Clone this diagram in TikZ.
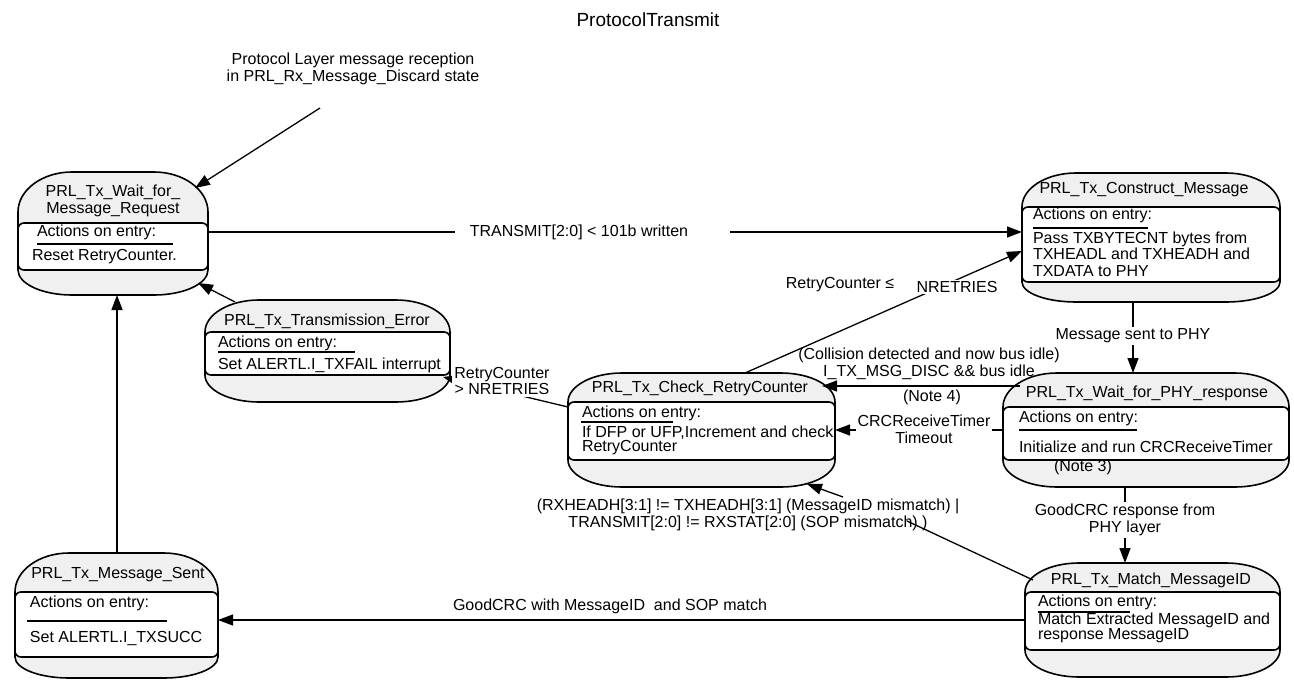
\documentclass[tikz,border=0pt]{standalone}
\usepackage{fontspec}
\setmainfont{Liberation Sans}
\usetikzlibrary{arrows.meta}
\newcommand\statebox[7]{%
 \pgfmathsetmacro\sbw{#4-#2}\pgfmathsetmacro\sbh{#5-#3}%
 \pgfmathsetmacro\sbcx{(#2+#4)/2}\pgfmathsetmacro\sbcy{(#3+#5)/2}%
 \pgfmathsetmacro\sbrx{54}%
 \pgfmathsetmacro\sbrt{min(#6-#3,40)}\pgfmathsetmacro\sbrb{min(#5-#7,40)}%
 \pgfmathsetmacro\sbax{#2+\sbrx}\pgfmathsetmacro\sbbx{#4-\sbrx}%
 \pgfmathsetmacro\sbay{#3+\sbrt}\pgfmathsetmacro\sbby{#5-\sbrb}%
 \pgfmathsetmacro\sbcxa{#2+0.448*\sbrx}\pgfmathsetmacro\sbcxb{#4-0.448*\sbrx}%
 \pgfmathsetmacro\sbcya{#3+0.448*\sbrt}\pgfmathsetmacro\sbcyb{#5-0.448*\sbrb}%
 \draw[outerst] (\sbax,#3) -- (\sbbx,#3) .. controls (\sbcxb,#3) and (#4,\sbcya) .. (#4,\sbay) -- (#4,\sbby) .. controls (#4,\sbcyb) and (\sbcxb,#5) .. (\sbbx,#5) -- (\sbax,#5) .. controls (\sbcxa,#5) and (#2,\sbcyb) .. (#2,\sbby) -- (#2,\sbay) .. controls (#2,\sbcya) and (\sbcxa,#3) .. (\sbax,#3) -- cycle;
 \draw[innerst] (#2,#6) rectangle (#4,#7);
 \node[anchorbox, minimum width=\sbw pt, minimum height=\sbh pt] (#1) at (\sbcx,\sbcy) {};
}
\begin{document}
\begin{tikzpicture}[x=1pt,y=-1pt,
  every node/.style={font=\fontsize{16pt}{16.7pt}\selectfont, inner sep=0pt, outer sep=0pt},
  outerst/.style={draw=black, fill=gray!12, line width=1.6pt},
  innerst/.style={draw=black, fill=white, line width=1.6pt, rounded corners=6pt},
  anchorbox/.style={draw=none, fill=none, rectangle},
  ttl/.style={align=center},
  txt/.style={anchor=west, align=left},
  lab/.style={align=center},
  wlab/.style={align=center, fill=white, inner sep=2pt},
  uline/.style={line width=1.3pt},
  conn/.style={line width=1.3pt},
  arr/.style={conn, -{Triangle[length=15pt,width=11pt]}},
]
\useasboundingbox (0,0) rectangle (1294,688);

\node[font=\fontsize{19pt}{22pt}\selectfont] (title) at (648,20) {ProtocolTransmit};

% states
\statebox{wait}{18}{172}{208}{295}{223}{270}
\statebox{err}{205}{300}{450}{402}{332}{375}
\statebox{chk}{568}{373}{835}{487}{402}{460}
\statebox{cons}{1022}{173}{1280}{302}{207}{282}
\statebox{phy}{1003}{373}{1289}{487}{407}{460}
\statebox{match}{1025}{563}{1280}{677}{592}{650}
\statebox{sent}{15}{553}{218}{678}{592}{657}

% texts in states
\node[ttl] (wait-t) at (113,201) {PRL\_Tx\_Wait\_for\_\\Message\_Request};
\node[txt] (wait-a) at (37,232) {Actions on entry:};
\draw[uline] (37,244) -- (173,244);
\node[txt] (wait-b) at (32,257) {Reset RetryCounter.};

\node[ttl] (err-t) at (327,321) {PRL\_Tx\_Transmission\_Error};
\node[txt] (err-a) at (218,343) {Actions on entry:};
\draw[uline] (218,352) -- (355,352);
\node[txt] (err-b) at (218,365) {Set ALERTL.I\_TXFAIL interrupt};

\node[ttl] (chk-t) at (700,388) {PRL\_Tx\_Check\_RetryCounter};
\node[txt] (chk-a) at (582,413) {Actions on entry:};
\draw[uline] (581,422) -- (673,422);
\node[txt, font=\fontsize{16pt}{14pt}\selectfont] (chk-b) at (582,440) {If DFP or UFP,Increment and check\\RetryCounter};

\node[ttl] (cons-t) at (1144,190) {PRL\_Tx\_Construct\_Message};
\node[txt] (cons-a) at (1033,215) {Actions on entry:};
\draw[uline] (1033,228) -- (1148,228);
\node[txt] (cons-b) at (1033,254) {Pass TXBYTECNT bytes from\\TXHEADL and TXHEADH and\\TXDATA to PHY};

\node[ttl] (phy-t) at (1147,393) {PRL\_Tx\_Wait\_for\_PHY\_response};
\node[txt] (phy-a) at (1019,418) {Actions on entry:};
\draw[uline] (1019,430) -- (1137,430);
\node[txt] (phy-b) at (1019,447) {Initialize and run CRCReceiveTimer};
\node (phy-n) at (1083,467) {(Note 3)};

\node[ttl] (match-t) at (1151,580) {PRL\_Tx\_Match\_MessageID};
\node[txt] (match-a) at (1038,602) {Actions on entry:};
\draw[uline] (1038,612) -- (1130,612);
\node[txt, font=\fontsize{16pt}{15pt}\selectfont] (match-b) at (1038,627.5) {Match Extracted MessageID and\\response MessageID};

\node[ttl] (sent-t) at (118,575) {PRL\_Tx\_Message\_Sent};
\node[txt] (sent-a) at (30,603) {Actions on entry:};
\draw[uline] (27,621) -- (167,621);
\node[txt] (sent-b) at (30,638) {Set ALERTL.I\_TXSUCC};

% connectors
\coordinate (init) at (320,108);
\node[lab] (initlab) at (353,69) {Protocol Layer message reception\\in PRL\_Rx\_Message\_Discard state};
\draw[arr] (init) -- ([shift={(-13,16)}]wait.north east);

\draw[arr] (wait.east |- 0,232) -- (cons.west |- 0,232);
\node[fill=white, minimum width=275pt, minimum height=8pt] (tgap) at (592,232) {};
\node (tlab) at (579,232) {TRANSMIT[2:0] < 101b written};

\draw[arr] ([shift={(30,2)}]err.north west) -- ([shift={(-10,-12)}]wait.south east);

\draw[arr] (chk.west |- 0,407) -- ([shift={(-7,-25)}]err.south east);
\node[wlab] (rclab) at (502,381) {RetryCounter\\> NRETRIES};

\draw[arr] ([shift={(177,0)}]chk.north west) -- (cons.west |- 0,251);
\node[wlab, inner sep=1pt] (nrlab) at (957,287) {NRETRIES};
\node (rcle) at (840,285) {RetryCounter ≤};

\draw[arr] ([shift={(17,13)}]phy.north west) -- ([shift={(-13,13)}]chk.north east);
\node[lab] (colllab) at (929,363.5) {(Collision detected and now bus idle)\\I\_TX\_MSG\_DISC \&\& bus idle};
\node (n4) at (932,397) {(Note 4)};

\draw[arr] (phy.west |- 0,430) -- (chk.east |- 0,430);
\node[wlab] (crclab) at (924,429) {CRCReceiveTimer\\Timeout};

\draw[arr] (cons.south -| 1133,0) -- (phy.north -| 1133,0);
\node[wlab] (sentlab) at (1133,336) {Message sent to PHY};

\draw[arr] (phy.south -| 1125,0) -- (match.north -| 1125,0);
\node[wlab] (gclab) at (1125,520) {GoodCRC response from\\PHY layer};

\coordinate (m1) at (907,521);
\coordinate (m2) at (843,497);
\draw[conn] ([shift={(8,17)}]match.north west) -- (m1);
\draw[arr] (m2) -- ([shift={(-28,-3)}]chk.south east);
\node[lab] (mmlab) at (748,515) {(RXHEADH[3:1] != TXHEADH[3:1] (MessageID mismatch) |\\TRANSMIT[2:0] != RXSTAT[2:0] (SOP mismatch) )};

\draw[arr] (match.west |- 0,620) -- (sent.east |- 0,620);
\node (oklab) at (610,606) {GoodCRC with MessageID\ \ and SOP match};

\draw[arr] (sent.north -| 117,0) -- (wait.south -| 117,0);
\end{tikzpicture}
\end{document}
